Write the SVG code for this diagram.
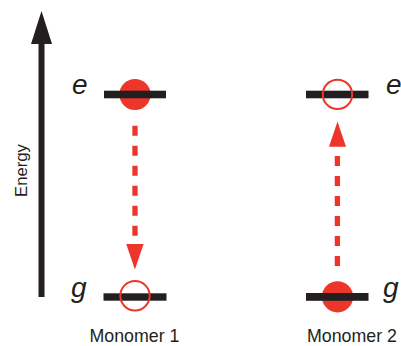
<svg xmlns="http://www.w3.org/2000/svg" width="401" height="346" viewBox="0 0 401 346">
<style>
.bar{fill:#231F20}
.dash{stroke:#EE3529;stroke-width:5.3;stroke-dasharray:10 10;fill:none}
.head{fill:#EE3529}
.full{fill:#EE3529}
.hollow{fill:none;stroke:#EE3529;stroke-width:2}
.lvl{font-family:"Liberation Sans",Arial,sans-serif;font-style:italic;font-size:28px;fill:#231F20}
.lbl{font-family:"Liberation Sans",Arial,sans-serif;font-size:17.8px;fill:#231F20}
.axis{font-family:"Liberation Sans",Arial,sans-serif;font-size:16.7px;fill:#231F20}
</style>
<rect width="401" height="346" fill="#FFFFFF"/>
<g id="energy-axis">
<rect x="38.5" y="42" width="6" height="255" class="bar"/>
<polygon points="41.5,11 52,44 31,44" class="bar"/>
<text class="axis" transform="translate(26.5,170.5) rotate(-90)" text-anchor="middle">Energy</text>
</g>
<g id="monomer1-e">
<circle cx="135" cy="94.5" r="15.6" class="full"/>
<rect x="104" y="90.7" width="62" height="7.6" class="bar"/>
<text class="lvl" x="72" y="93.5">e</text>
</g>
<g id="monomer1-g">
<rect x="103.5" y="293.3" width="63" height="7.4" class="bar"/>
<circle cx="135" cy="295.8" r="14.7" class="hollow"/>
<text class="lvl" x="71" y="296.5">g</text>
</g>
<g id="monomer2-e">
<rect x="306" y="90.7" width="62.5" height="7.6" class="bar"/>
<circle cx="337.5" cy="94.4" r="14.7" class="hollow"/>
<text class="lvl" x="386" y="93.5">e</text>
</g>
<g id="monomer2-g">
<circle cx="337.5" cy="296.8" r="15.6" class="full"/>
<rect x="306" y="293" width="62.5" height="7.8" class="bar"/>
<text class="lvl" x="383" y="296.5">g</text>
</g>
<g id="connectors">
<line x1="135" y1="125.7" x2="135" y2="238" class="dash"/>
<polygon points="126.2,244 143.6,244 134.9,269.5" class="head"/>
<line x1="337.4" y1="266" x2="337.4" y2="150" class="dash"/>
<polygon points="329,146.7 346,146.7 337.5,121.5" class="head"/>
</g>
<g id="labels">
<text class="lbl" x="89.5" y="342">Monomer 1</text>
<text class="lbl" x="307" y="342">Monomer 2</text>
</g>
</svg>
